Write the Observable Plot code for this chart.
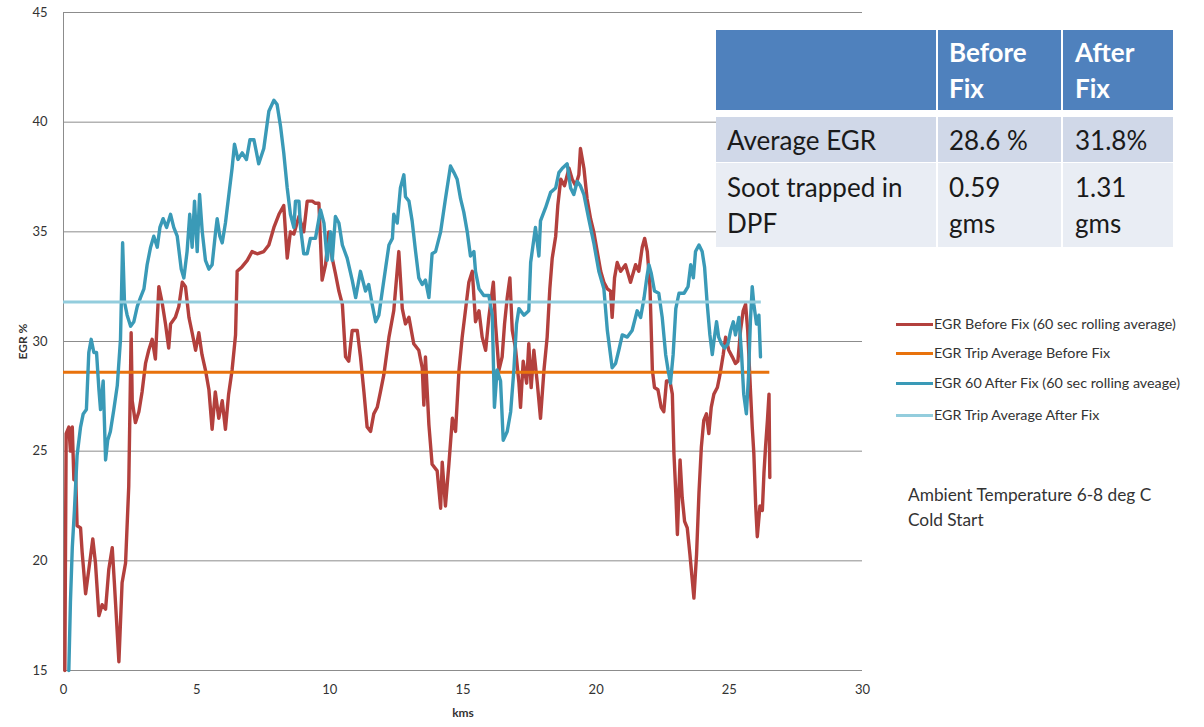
<!DOCTYPE html>
<html><head><meta charset="utf-8">
<script src="https://cdn.jsdelivr.net/npm/d3@7"></script>
<script src="https://cdn.jsdelivr.net/npm/@observablehq/plot@0.6"></script>
<style>
body{margin:0;background:#fff;font-family:Lato,"Open Sans",sans-serif;}
#wrap{position:relative;width:1204px;height:727px;overflow:hidden;background:#fff;}
#chart{position:absolute;left:0;top:0;}
.cell{position:absolute;box-sizing:border-box;color:#1a1a1a;font-size:26px;line-height:36px;}
.hdr{background:#4f81bd;color:#fff;font-weight:bold;}
.r1{background:#d0d8e8;}
.r2{background:#e9edf4;}
.leg{position:absolute;left:896px;font-size:14.3px;color:#333;white-space:nowrap;}
.leg span.sw{display:inline-block;width:37px;height:3px;vertical-align:middle;margin-right:1px;position:relative;top:-1px;}
.note{position:absolute;left:908px;font-size:17.3px;color:#333;line-height:26px;}
</style>
</head><body>
<div id="wrap">
<div id="chart"></div>
</div>
<script>
// ---- data ----
const beforeKm = [0.05,0.1,0.2,0.26,0.33,0.39,0.45,0.51,0.64,0.7,0.83,0.95,1.1,1.2,1.33,1.45,1.58,1.7,1.83,1.91,2.08,2.2,2.33,2.45,2.54,2.58,2.7,2.83,2.95,3.08,3.2,3.33,3.45,3.58,3.7,3.83,3.95,4.02,4.2,4.33,4.46,4.58,4.71,4.83,4.96,5.08,5.2,5.33,5.46,5.58,5.7,5.83,5.96,6.08,6.2,6.33,6.46,6.52,6.7,6.9,7.08,7.27,7.52,7.71,7.9,8.09,8.27,8.4,8.52,8.65,8.84,9.02,9.15,9.34,9.46,9.59,9.71,9.84,9.96,10.09,10.21,10.34,10.47,10.59,10.71,10.84,11.03,11.15,11.28,11.4,11.53,11.65,11.78,11.9,12.03,12.22,12.4,12.59,12.72,12.84,12.97,13.15,13.34,13.47,13.53,13.59,13.72,13.84,14.03,14.16,14.22,14.34,14.47,14.6,14.72,14.85,14.97,15.1,15.22,15.35,15.47,15.6,15.72,15.85,15.97,16.14,16.22,16.35,16.47,16.56,16.66,16.76,16.85,16.97,17.1,17.16,17.26,17.39,17.47,17.56,17.66,17.79,17.91,18.04,18.16,18.26,18.35,18.48,18.56,18.67,18.81,18.98,19.1,19.23,19.35,19.41,19.54,19.66,19.79,19.91,20.04,20.17,20.29,20.42,20.54,20.6,20.69,20.79,20.92,21.1,21.29,21.48,21.6,21.73,21.82,21.92,22.02,22.11,22.19,22.32,22.44,22.54,22.64,22.77,22.86,22.92,22.99,23.05,23.15,23.23,23.32,23.42,23.52,23.61,23.67,23.77,23.86,23.95,24.04,24.14,24.23,24.32,24.42,24.55,24.65,24.77,24.86,24.98,25.11,25.23,25.32,25.42,25.52,25.61,25.69,25.8,25.86,25.92,25.99,26.05,26.15,26.24,26.3,26.36,26.43,26.49,26.52];
const beforeEgr = [15,25.8,26.1,25,26.1,23.7,24.2,21.6,21.5,20.4,18.5,19.6,21,19.9,17.5,18,17.8,19.6,20.6,19,15.4,19,19.9,23.4,30.4,27.3,26.3,26.8,27.7,29,29.6,30.1,29.2,32.5,31.8,30.8,29.7,30.8,31.1,31.6,32.7,32.5,31.1,30.4,29.6,30.4,29.4,28.7,27.8,26,27.7,26.5,27.3,26,27.6,28.7,30.3,33.2,33.4,33.7,34.1,34,34.1,34.4,35.2,35.8,36.2,33.8,35,34.9,35.7,35,36.4,36.4,36.3,36.3,32.8,33.5,35,33.8,33.1,32.3,31.7,29.3,29.1,30.5,30.5,29.3,27.7,26.1,25.9,26.7,27,27.7,28.5,30.2,31.4,34.1,31.5,30.8,31.1,29.9,29.6,28.8,27.1,29.3,26.2,24.4,24.1,22.4,24.5,22.5,24.4,26.5,25.9,28.7,30.2,31.5,32.7,33.2,30.9,31.4,30.2,29.6,31.1,32.7,30.8,28.7,29.3,30.8,32,32.9,30.5,29.7,28.1,27,29.1,28.1,29.9,27.9,29.6,28.1,26.5,28.7,30.2,32.4,33.8,34.8,36.2,37.4,37.1,37.9,37.4,37.1,37.6,38.8,37.9,36.5,35.6,35,34.1,33.2,32.7,32.4,32.3,31.1,32.9,33.6,33.2,33.5,32.7,33.5,33.2,34.3,34.7,34.1,32.5,28.7,27.9,27.8,27,26.8,28.2,28.2,27.6,24.9,23.1,21.2,24.6,22.9,21.8,21.5,20.3,19.1,18.3,20.3,23.1,25.2,26.4,26.7,25.8,27,27.6,27.9,28.5,29.4,30.2,29.6,29.3,29,29.1,30.5,31.4,31.7,30.5,27.6,26.1,24.9,22.5,21.1,22.5,22.3,24,25.2,26.4,27.6,23.8];

const afterKm = [0.2,0.26,0.33,0.41,0.51,0.64,0.74,0.86,0.95,1.04,1.14,1.24,1.33,1.39,1.49,1.58,1.66,1.76,1.89,2.02,2.14,2.22,2.29,2.39,2.52,2.64,2.77,2.89,3.02,3.14,3.27,3.39,3.52,3.62,3.74,3.87,4.02,4.14,4.27,4.42,4.52,4.64,4.74,4.83,4.92,5.02,5.11,5.21,5.33,5.46,5.58,5.71,5.77,5.87,5.96,6.08,6.21,6.33,6.42,6.55,6.71,6.87,7.0,7.15,7.33,7.52,7.71,7.9,8.02,8.15,8.27,8.4,8.52,8.65,8.71,8.84,8.9,9.02,9.15,9.27,9.46,9.65,9.78,9.9,10.03,10.09,10.21,10.34,10.47,10.65,10.84,10.97,11.15,11.34,11.46,11.59,11.72,11.84,11.97,12.1,12.22,12.35,12.4,12.53,12.65,12.78,12.84,12.97,13.09,13.22,13.34,13.47,13.59,13.72,13.84,13.97,14.16,14.34,14.53,14.66,14.78,14.91,15.03,15.16,15.28,15.41,15.47,15.6,15.78,15.97,16.1,16.18,16.28,16.41,16.51,16.66,16.79,16.91,17.01,17.1,17.29,17.47,17.54,17.72,17.85,17.91,18.1,18.29,18.48,18.6,18.73,18.91,19.04,19.16,19.29,19.41,19.54,19.72,19.91,20.1,20.29,20.42,20.6,20.73,20.85,20.98,21.17,21.35,21.54,21.67,21.8,21.9,21.98,22.07,22.19,22.35,22.48,22.61,22.7,22.79,22.89,22.99,23.11,23.3,23.45,23.55,23.65,23.73,23.86,23.98,24.07,24.17,24.27,24.36,24.42,24.52,24.6,24.7,24.82,24.95,25.05,25.15,25.23,25.36,25.46,25.54,25.64,25.72,25.79,25.86,25.92,26.02,26.11,26.17];
const afterEgr = [15,18.1,20.6,22.3,24.8,26.1,26.7,26.9,29.5,30.1,29.5,29.5,27.8,26.9,28.2,24.6,25.5,25.9,26.9,28,30.1,34.5,31.8,31.2,30.7,30.9,31.6,32,32.4,33.5,34.3,34.8,34.3,35.2,35.6,35.2,35.8,35.2,34.8,33.3,32.9,34.1,35.8,34.3,36.4,34.1,36.7,35,33.7,33.3,33.5,35,35.6,34.8,34.5,35.4,36.7,37.9,39,38.3,38.6,38.3,39.2,39.2,38.1,38.8,40.5,41,40.8,39.8,38.6,37,35.8,35.2,36.4,36.4,35.2,34,34,34.7,34.7,36,35.4,33.7,35,33.7,35.7,35.4,34.4,33.8,32.8,32,33.2,32.3,32.6,31.7,30.9,31.2,32.3,33.4,34.4,34.7,35.8,35.4,37,37.6,36.6,36.4,35.5,34.1,32.9,32.6,32.8,32,34,34.1,35,36.5,38,37.7,37.4,36.5,35.9,35,33.9,34.1,33.2,32.4,32.1,32.1,31.2,27,28.7,28.2,25.5,25.9,26.8,28.7,30.8,31.5,31.2,31.4,33.6,35.2,33.9,35.5,36.1,36.8,37,37.7,37.9,38.1,37,36.7,37.3,37.1,36.7,35.6,34.5,33.2,32.4,30.5,28.8,29,29.6,30.3,30.2,30.5,31.4,31.1,32,32.9,33.5,33.1,32.3,32.2,31.1,29.4,28.7,28.1,29.4,31.5,32.2,32.2,32.5,33.5,32.9,34.1,34.4,34.1,33.4,31.7,30.3,29.4,30,30.9,30.2,29.9,29.7,29.9,30.5,30.9,30.3,31.1,29.4,27.6,26.7,28.4,30.9,32.5,31.7,30.8,31.2,29.3];

const avgBefore = 28.6, avgBeforeEnd = 26.52;
const avgAfter = 31.8, avgAfterEnd = 26.2;

const xTicks = [0,5,10,15,20,25,30];
const yTicks = [15,20,25,30,35,40,45];

const seriesNames = ["EGR Before Fix (60 sec rolling average)","EGR Trip Average Before Fix","EGR 60 After Fix (60 sec rolling aveage)","EGR Trip Average After Fix"];
const seriesColors = ["#b3403d","#e8720c","#3a9ab7","#93cddd"];

const tableHeader = ["", "Before\nFix", "After\nFix"];
const tableRows = [["Average EGR","28.6 %","31.8%"],["Soot trapped in\nDPF","0.59\ngms","1.31\ngms"]];

const noteLines = ["Ambient Temperature 6-8 deg C","Cold Start"];

// ---- build ----
const before = beforeKm.map((k,i)=>({km:k, egr:beforeEgr[i]}));
const after = afterKm.map((k,i)=>({km:k, egr:afterEgr[i]}));

const plot = Plot.plot({
  width: 880, height: 727,
  marginLeft: 63, marginRight: 18, marginTop: 12, marginBottom: 57,
  style: {fontFamily: "Lato, 'Open Sans', sans-serif", fontSize: "13px", color: "#333", background: "transparent"},
  x: {domain: [0,30]},
  y: {domain: [15,45]},
  marks: [
    Plot.ruleY(yTicks.filter(d=>d>15), {stroke:"#8c8c8c", strokeWidth:1}),
    Plot.ruleY([15], {stroke:"#8c8c8c", strokeWidth:1}),
    Plot.ruleX([0], {stroke:"#8c8c8c", strokeWidth:1}),
    Plot.line(before, {x:"km", y:"egr", stroke: seriesColors[0], strokeWidth:3.4, strokeLinejoin:"round"}),
    Plot.ruleY([avgBefore], {x1:0, x2:avgBeforeEnd, stroke: seriesColors[1], strokeWidth:3}),
    Plot.line(after, {x:"km", y:"egr", stroke: seriesColors[2], strokeWidth:3.4, strokeLinejoin:"round"}),
    Plot.ruleY([avgAfter], {x1:0, x2:avgAfterEnd, stroke: seriesColors[3], strokeWidth:3}),
    Plot.axisX({ticks: xTicks, tickSize:0, tickPadding:14, label:"kms", labelAnchor:"center", labelArrow:"none", labelOffset:46}),
    Plot.axisY({ticks: yTicks, tickSize:0, tickPadding:16, label:"EGR %", labelAnchor:"center", labelArrow:"none", labelOffset:45})
  ]
});
document.getElementById("chart").appendChild(plot);
plot.querySelectorAll('g[aria-label="x-axis label"] text, g[aria-label="y-axis label"] text').forEach(t=>{t.style.fontWeight="bold";t.style.fontSize="12px";});

const wrap = document.getElementById("wrap");
function cell(cls, left, top, w, h, text, padL, padT){
  const d = document.createElement("div");
  d.className = "cell " + cls;
  d.style.left = left+"px"; d.style.top = top+"px"; d.style.width = w+"px"; d.style.height = h+"px";
  d.style.paddingLeft = padL+"px"; d.style.paddingTop = padT+"px";
  d.innerHTML = text.split("\n").join("<br>");
  wrap.appendChild(d);
}
const colL = [716, 938, 1063], colW = [220, 123, 110], padL = [11, 11, 12];
tableHeader.forEach((t,i)=>cell("hdr", colL[i], 30, colW[i], 80, t, padL[i], 4));
tableRows[0].forEach((t,i)=>cell("r1", colL[i], 117, colW[i], 45, t, padL[i], 5));
tableRows[1].forEach((t,i)=>cell("r2", colL[i], 163, colW[i], 84, t, padL[i], 6));

const legTops = [315, 344, 374, 406];
seriesNames.forEach((n,i)=>{
  const d = document.createElement("div");
  d.className = "leg";
  d.style.top = legTops[i]+"px";
  d.innerHTML = `<span class="sw" style="background:${seriesColors[i]}"></span>${n}`;
  wrap.appendChild(d);
});
noteLines.forEach((t,i)=>{
  const d = document.createElement("div");
  d.className = "note";
  d.style.top = (482 + i*25)+"px";
  d.textContent = t;
  wrap.appendChild(d);
});
</script>
</body></html>
